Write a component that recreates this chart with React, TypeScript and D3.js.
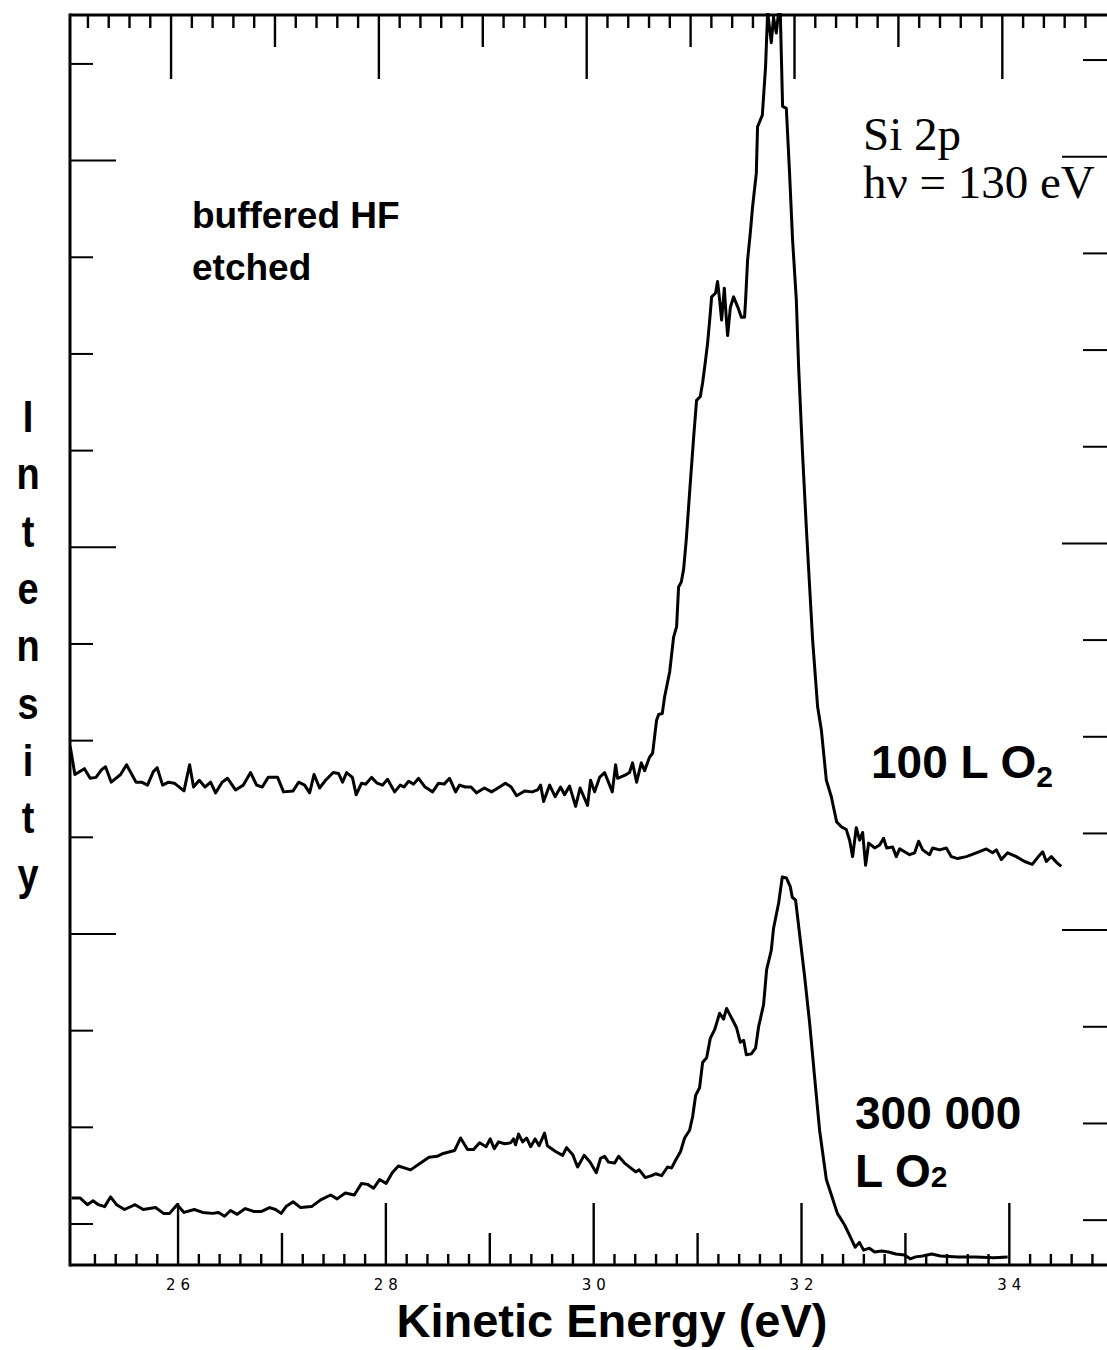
import React from 'react';
import * as d3 from 'd3';

// ---- data (Kinetic energy in eV, intensity in arbitrary units) ----
const upperEnergy = [
  24.962, 25.007, 25.099, 25.154, 25.21, 25.264, 25.302, 25.357, 25.447, 25.504, 25.596, 25.649, 25.706, 25.762, 25.799,
  25.851, 25.909, 25.964, 26.057, 26.111, 26.149, 26.204, 26.259, 26.313, 26.361, 26.424, 26.476, 26.553, 26.628, 26.698,
  26.756, 26.811, 26.867, 26.958, 27.015, 27.107, 27.16, 27.218, 27.266, 27.309, 27.362, 27.42, 27.493, 27.545, 27.583,
  27.622, 27.678, 27.714, 27.766, 27.805, 27.862, 27.916, 27.968, 28.016, 28.084, 28.138, 28.174, 28.219, 28.267, 28.315,
  28.377, 28.45, 28.507, 28.561, 28.613, 28.671, 28.709, 28.764, 28.819, 28.873, 28.948, 29.017, 29.094, 29.15, 29.206,
  29.258, 29.335, 29.408, 29.46, 29.489, 29.518, 29.576, 29.629, 29.681, 29.72, 29.768, 29.826, 29.869, 29.941, 29.97,
  30.009, 30.057, 30.105, 30.179, 30.211, 30.23, 30.297, 30.345, 30.374, 30.413, 30.458, 30.49, 30.538, 30.567, 30.605,
  30.625, 30.66, 30.682, 30.731, 30.769, 30.798, 30.817, 30.843, 30.865, 30.891, 30.93, 30.962, 30.99, 31.026, 31.048,
  31.077, 31.096, 31.122, 31.135, 31.173, 31.192, 31.212, 31.231, 31.257, 31.276, 31.289, 31.315, 31.346, 31.385, 31.421,
  31.452, 31.462, 31.481, 31.507, 31.529, 31.565, 31.577, 31.623, 31.654, 31.674, 31.709, 31.731, 31.757, 31.78, 31.796,
  31.818, 31.854, 31.885, 31.914, 31.95, 31.972, 32.008, 32.049, 32.085, 32.107, 32.155, 32.191, 32.239, 32.287, 32.338,
  32.383, 32.431, 32.463, 32.492, 32.527, 32.559, 32.588, 32.617, 32.646, 32.704, 32.752, 32.79, 32.819, 32.877, 32.912,
  32.944, 32.992, 33.04, 33.089, 33.127, 33.166, 33.233, 33.262, 33.329, 33.394, 33.442, 33.502, 33.586, 33.682, 33.779,
  33.839, 33.875, 33.923, 33.984, 34.067, 34.147, 34.221, 34.272, 34.321, 34.356, 34.404, 34.465, 34.5,
];
const upperIntensity = [
  594, 565, 571, 561, 562, 570, 573, 557, 565, 575, 557, 557, 554, 568, 572,
  554, 557, 556, 548, 575, 552, 559, 552, 557, 546, 557, 561, 549, 554, 567,
  554, 552, 562, 562, 547, 548, 557, 554, 546, 565, 551, 559, 567, 566, 557,
  567, 562, 544, 556, 555, 562, 556, 554, 560, 547, 554, 552, 558, 555, 561,
  552, 547, 556, 555, 561, 547, 554, 552, 552, 546, 551, 547, 552, 556, 552,
  543, 548, 547, 549, 554, 537, 554, 542, 552, 544, 553, 532, 551, 533, 559,
  547, 562, 567, 547, 575, 561, 564, 567, 577, 557, 577, 569, 583, 587, 621,
  627, 628, 645, 671, 707, 718, 759, 764, 777, 808, 867, 914, 952, 956, 970,
  994, 1011, 1042, 1059, 1063, 1075, 1056, 1035, 1068, 1037, 1019, 1048, 1059, 1049, 1038,
  1038, 1056, 1097, 1125, 1152, 1187, 1235, 1247, 1297, 1354, 1322, 1348, 1332, 1354, 1352,
  1256, 1254, 1187, 1118, 1056, 987, 901, 815, 746, 704, 635, 611, 559, 542, 516,
  511, 508, 497, 480, 510, 497, 505, 471, 494, 489, 492, 499, 489, 490, 480,
  488, 485, 482, 484, 496, 487, 482, 489, 487, 489, 480, 478, 480, 484, 488,
  484, 487, 477, 484, 480, 475, 472, 479, 485, 475, 480, 473, 470,
];

const lowerEnergy = [
  24.975, 25.056, 25.127, 25.182, 25.233, 25.293, 25.35, 25.408, 25.485, 25.586, 25.665, 25.783, 25.86, 25.918, 25.991,
  26.058, 26.156, 26.236, 26.332, 26.39, 26.448, 26.505, 26.569, 26.647, 26.727, 26.804, 26.881, 26.938, 26.992, 27.039,
  27.107, 27.179, 27.285, 27.372, 27.468, 27.531, 27.609, 27.696, 27.766, 27.824, 27.882, 27.939, 28.002, 28.061, 28.12,
  28.238, 28.334, 28.415, 28.494, 28.552, 28.661, 28.719, 28.786, 28.844, 28.902, 28.964, 29.004, 29.043, 29.085, 29.142,
  29.2, 29.229, 29.248, 29.277, 29.316, 29.354, 29.393, 29.436, 29.475, 29.527, 29.554, 29.633, 29.701, 29.739, 29.797,
  29.845, 29.908, 29.966, 30.025, 30.066, 30.105, 30.143, 30.201, 30.24, 30.297, 30.355, 30.403, 30.438, 30.497, 30.557,
  30.596, 30.654, 30.711, 30.75, 30.788, 30.836, 30.875, 30.923, 30.952, 30.981, 31.019, 31.048, 31.087, 31.122, 31.164,
  31.212, 31.25, 31.279, 31.337, 31.375, 31.411, 31.443, 31.469, 31.517, 31.558, 31.587, 31.635, 31.664, 31.709, 31.731,
  31.78, 31.815, 31.854, 31.892, 31.911, 31.943, 31.988, 32.03, 32.078, 32.126, 32.174, 32.239, 32.294, 32.345, 32.415,
  32.473, 32.516, 32.557, 32.598, 32.653, 32.704, 32.771, 32.838, 32.906, 32.992, 33.046, 33.098, 33.166, 33.252, 33.337,
  33.507, 33.676, 33.849, 33.984,
];
const lowerIntensity = [
  127, 127, 120, 124, 120, 118, 128, 120, 115, 120, 115, 117, 111, 111, 120,
  112, 115, 112, 111, 112, 108, 114, 110, 116, 113, 113, 117, 115, 111, 118,
  123, 117, 118, 125, 130, 126, 132, 130, 142, 141, 137, 146, 142, 153, 160,
  156, 163, 169, 170, 173, 176, 189, 177, 177, 184, 180, 188, 178, 185, 183,
  184, 188, 182, 193, 185, 189, 180, 188, 181, 194, 181, 175, 171, 179, 172,
  159, 171, 164, 153, 168, 170, 164, 163, 170, 163, 158, 154, 156, 148, 150,
  152, 150, 159, 158, 166, 175, 189, 197, 211, 233, 241, 267, 272, 292, 301,
  318, 312, 323, 311, 303, 288, 290, 275, 276, 282, 304, 327, 363, 383, 406,
  432, 459, 458, 449, 438, 435, 394, 356, 308, 252, 197, 146, 128, 111, 99,
  86, 76, 81, 73, 75, 71, 72, 71, 69, 68, 64, 66, 67, 69, 67,
  66, 66, 65, 66,
];

const xTickLabels = [26, 28, 30, 32, 34];
const yTickValues = [100, 200, 300, 400, 500, 600, 700, 800, 900, 1000, 1100, 1200, 1300];
const yLongTicks = [400, 800, 1200];
const xDomain = [24.96, 34.94];
const yDomain = [57.6, 1350.6];
const yLabelLetters = ['I', 'n', 't', 'e', 'n', 's', 'i', 't', 'y'];

const SANS = '"Liberation Sans", Arial, Helvetica, sans-serif';
const SERIF = '"Liberation Serif", "Times New Roman", serif';
const TICKFONT = '"DejaVu Sans", "Liberation Sans", sans-serif';

export default function App() {
  const W = 1107;
  const H = 1350;
  const left = 70;
  const right = 1107;
  const top = 15;
  const bottom = 1265;

  const x = d3.scaleLinear().domain(xDomain).range([left, right]);
  const y = d3.scaleLinear().domain(yDomain).range([bottom, top]);

  const line = d3
    .line<[number, number]>()
    .x((d) => x(d[0]))
    .y((d) => y(d[1]));

  const upper: [number, number][] = upperEnergy.map((e, i) => [e, upperIntensity[i]]);
  const lower: [number, number][] = lowerEnergy.map((e, i) => [e, lowerIntensity[i]]);

  // minor ticks every 0.2 eV
  const xTicks = d3.range(126, 175).map((k) => ({ v: k / 5, kind: k % 10 === 0 ? 2 : k % 5 === 0 ? 1 : 0 }));
  const bottomLen = [11, 32, 62];
  const topLen = [13, 32, 64];
  const topShift = -7;

  return (
    <svg
      width={W}
      height={H}
      viewBox={`0 0 ${W} ${H}`}
      style={{ position: 'absolute', left: 0, top: 0, background: '#fff' }}
    >
      <rect x={0} y={0} width={W} height={H} fill="#fff" />
      <defs>
        <clipPath id="plotClip">
          <rect x={left} y={top - 2} width={right - left} height={bottom - top + 2} />
        </clipPath>
      </defs>

      {/* axes frame */}
      <line x1={left} y1={top} x2={right} y2={top} stroke="#000" strokeWidth={3} />
      <line x1={left} y1={top - 1.5} x2={left} y2={bottom + 1.5} stroke="#000" strokeWidth={3} />
      <line x1={left} y1={bottom} x2={right} y2={bottom} stroke="#000" strokeWidth={3} />

      {/* bottom ticks */}
      {xTicks.map((t, i) => (
        <line
          key={'b' + i}
          x1={x(t.v)}
          x2={x(t.v)}
          y1={bottom}
          y2={bottom - bottomLen[t.kind]}
          stroke="#000"
          strokeWidth={2.4}
        />
      ))}
      {/* top ticks (slightly offset scale) */}
      {xTicks.map((t, i) => (
        <line
          key={'t' + i}
          x1={x(t.v) + topShift}
          x2={x(t.v) + topShift}
          y1={top}
          y2={top + topLen[t.kind]}
          stroke="#000"
          strokeWidth={2.4}
        />
      ))}
      {/* left ticks */}
      {yTickValues.map((v) => (
        <line
          key={'l' + v}
          x1={left}
          x2={left + (yLongTicks.includes(v) ? 46 : 23)}
          y1={y(v)}
          y2={y(v)}
          stroke="#000"
          strokeWidth={2}
        />
      ))}
      {/* right ticks */}
      {yTickValues.map((v) => (
        <line
          key={'r' + v}
          x1={right - (yLongTicks.includes(v) ? 45 : 24)}
          x2={right}
          y1={y(v + 4)}
          y2={y(v + 4)}
          stroke="#000"
          strokeWidth={2}
        />
      ))}

      {/* tick labels */}
      {xTickLabels.map((v) => (
        <text
          key={'xl' + v}
          x={x(v) + 2.5}
          y={1290}
          textAnchor="middle"
          fontFamily={TICKFONT}
          fontSize={15}
          letterSpacing={5}
          fill="#000"
        >
          {v}
        </text>
      ))}

      {/* spectra */}
      <g clipPath="url(#plotClip)">
        <path d={line(upper) || ''} fill="none" stroke="#000" strokeWidth={3} strokeLinejoin="round" />
        <path d={line(lower) || ''} fill="none" stroke="#000" strokeWidth={3} strokeLinejoin="round" />
      </g>

      {/* annotations */}
      <text fontFamily={SANS} fontWeight={700} fontSize={37} fill="#000">
        <tspan x={192} y={228}>buffered HF</tspan>
        <tspan x={192} y={280}>etched</tspan>
      </text>
      <text fontFamily={SERIF} fontSize={47} fill="#000">
        <tspan x={863} y={150}>Si 2p</tspan>
        <tspan x={863} y={198}>hν = 130 eV</tspan>
      </text>
      <text fontFamily={SANS} fontWeight={700} fontSize={46} fill="#000" x={871} y={778}>
        100 L O<tspan fontSize={30} dy={9}>2</tspan>
      </text>
      <text fontFamily={SANS} fontWeight={700} fontSize={46} fill="#000">
        <tspan x={855} y={1129}>300 000</tspan>
      </text>
      <text fontFamily={SANS} fontWeight={700} fontSize={46} fill="#000" x={855} y={1187}>
        L O<tspan fontSize={30} dy={0}>2</tspan>
      </text>

      {/* axis titles */}
      <text
        x={612}
        y={1337}
        textAnchor="middle"
        fontFamily={SANS}
        fontWeight={700}
        fontSize={47}
        fill="#000"
      >
        Kinetic Energy (eV)
      </text>
      {yLabelLetters.map((ch, i) => (
        <text
          key={'yl' + i}
          transform={`translate(28, ${432 + i * 57.3}) scale(1, 1.15)`}
          textAnchor="middle"
          fontFamily={SANS}
          fontWeight={700}
          fontSize={38}
          fill="#000"
        >
          {ch}
        </text>
      ))}
    </svg>
  );
}
